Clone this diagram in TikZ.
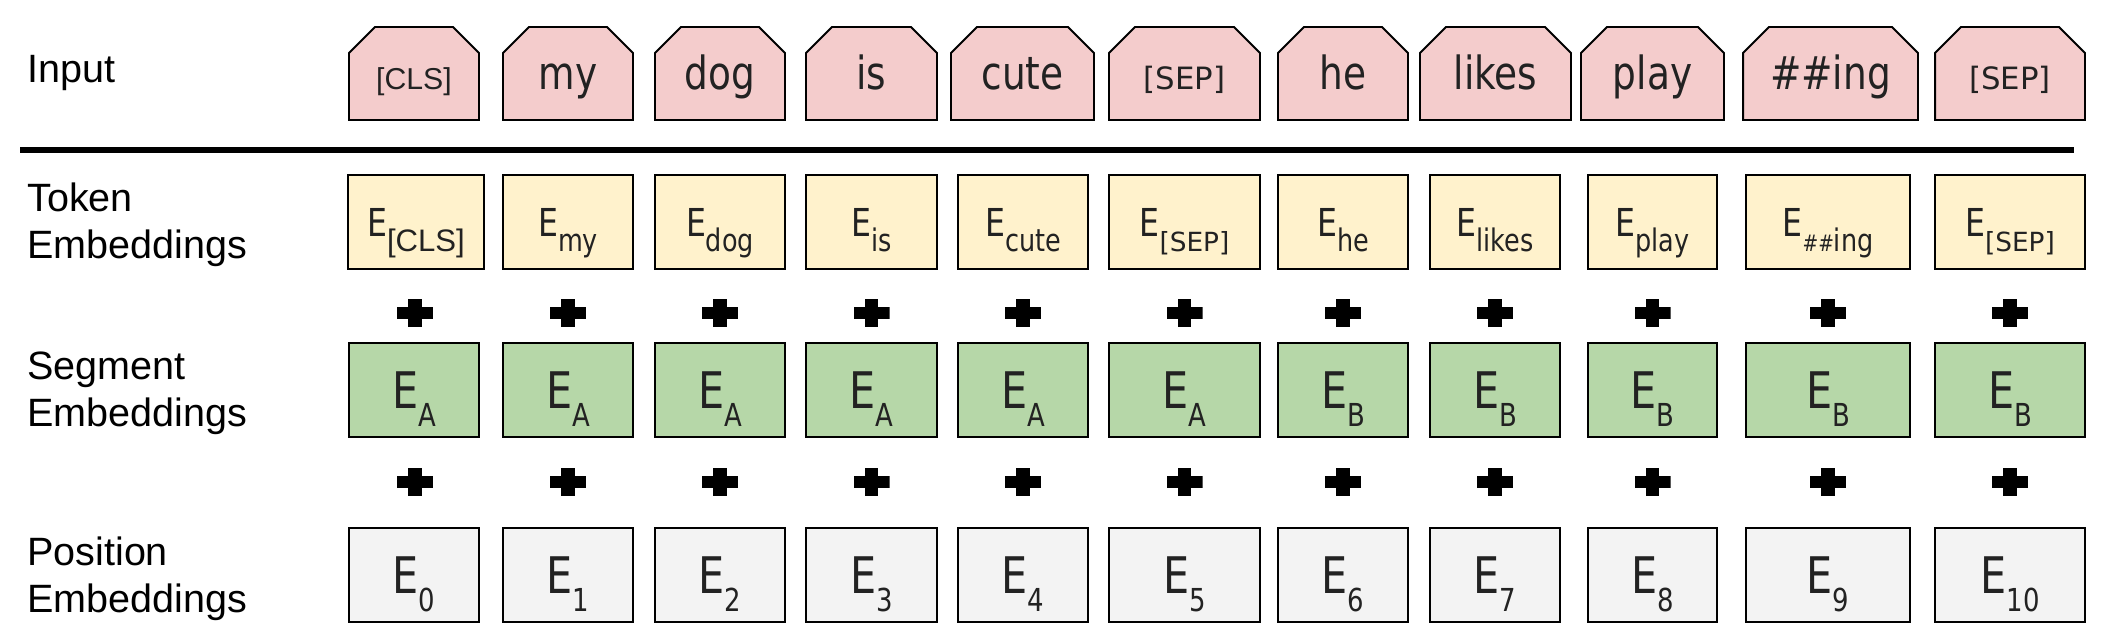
\documentclass[tikz,border=0pt]{standalone}
\usepackage{fontspec}
\setmainfont{Liberation Sans}
\newfontfamily\tahoma[FakeStretch=0.82]{DejaVu Sans}
\newfontfamily\dvs{DejaVu Sans}
\newfontfamily\arialfont{Liberation Sans}
\usetikzlibrary{shapes.misc}
\definecolor{inpink}{HTML}{F4CCCC}
\definecolor{tokyellow}{HTML}{FFF2CC}
\definecolor{seggreen}{HTML}{B6D7A8}
\definecolor{posgray}{HTML}{F3F3F3}
\definecolor{boxtext}{HTML}{222222}
\newcommand{\tsub}[1]{\raisebox{-0.30cm}{\fontsize{17.7}{20}\selectfont #1}}
\newcommand{\bsub}[1]{\raisebox{-0.37cm}{\fontsize{18}{20}\selectfont #1}}
\tikzset{
  lbl/.style={anchor=base west, align=left, inner sep=0pt, font=\fontsize{22.5}{26.2}\selectfont},
  inbox/.style={draw=black, line width=1.1pt, fill=inpink, text=boxtext, chamfered rectangle,
    chamfered rectangle corners={north west,north east}, chamfered rectangle xsep=0.26cm,
    chamfered rectangle ysep=0.26cm, minimum height=1.86cm, text height=0.66cm, text depth=0pt,
    font=\tahoma\fontsize{26}{30}\selectfont},
  tokbox/.style={draw=black, line width=1.1pt, fill=tokyellow, text=boxtext, minimum height=1.88cm,
    text height=0.588cm, text depth=0pt, font=\tahoma\fontsize{21.9}{26}\selectfont},
  segbox/.style={draw=black, line width=1.1pt, fill=seggreen, text=boxtext, minimum height=1.88cm,
    text height=0.72cm, text depth=0pt, font=\tahoma\fontsize{28.7}{32}\selectfont},
  posbox/.style={segbox, fill=posgray},
  plussign/.style={minimum width=0.72cm, minimum height=0.56cm, inner sep=0pt, path picture={
    \fill ([xshift=-0.133cm]path picture bounding box.north) rectangle ([xshift=0.133cm]path picture bounding box.south);
    \fill ([yshift=0.117cm]path picture bounding box.west) rectangle ([yshift=-0.117cm]path picture bounding box.east);}},
  sepline/.style={line width=3.4pt}
}
\begin{document}
\begin{tikzpicture}[x=0.02cm,y=-0.02cm]
\useasboundingbox (0,0) rectangle (2110,639);
% row labels
\node[lbl] (lin) at (27,82) {Input};
\node[lbl] (ltok) at (27,258) {Token\\Embeddings};
\node[lbl] (lseg) at (27,426) {Segment\\Embeddings};
\node[lbl] (lpos) at (27,612) {Position\\Embeddings};
% input tokens
\node[inbox, minimum width=2.6cm] (i0) at (414,73.5) {\arialfont\fontsize{17.2}{20}\selectfont [CLS]};
\node[inbox, minimum width=2.6cm] (i1) at (568,73.5) {my};
\node[inbox, minimum width=2.6cm] (i2) at (720,73.5) {dog};
\node[inbox, minimum width=2.62cm] (i3) at (871.5,73.5) {is};
\node[inbox, minimum width=2.86cm] (i4) at (1022.5,73.5) {cute};
\node[inbox, minimum width=3.02cm] (i5) at (1184.5,73.5) {\dvs\fontsize{17.5}{20}\selectfont [SEP]};
\node[inbox, minimum width=2.6cm] (i6) at (1343,73.5) {he};
\node[inbox, minimum width=3.02cm] (i7) at (1495.5,73.5) {likes};
\node[inbox, minimum width=2.86cm] (i8) at (1652.5,73.5) {play};
\node[inbox, minimum width=3.5cm] (i9) at (1830.5,73.5) {\#\#ing};
\node[inbox, minimum width=3.0cm] (i10) at (2010,73.5) {\dvs\fontsize{17.5}{20}\selectfont [SEP]};
\coordinate (rl) at (20,150);
\coordinate (rr) at (2074,150);
\draw[sepline] (rl) -- (rr);
% token embeddings
\node[tokbox, minimum width=2.72cm] (t0) at (416,222) {E\tsub{\arialfont [CLS]}};
\node[tokbox, minimum width=2.6cm] (t1) at (568,222) {E\tsub{my}};
\node[tokbox, minimum width=2.6cm] (t2) at (720,222) {E\tsub{dog}};
\node[tokbox, minimum width=2.62cm] (t3) at (871.5,222) {E\tsub{is}};
\node[tokbox, minimum width=2.6cm] (t4) at (1023,222) {E\tsub{cute}};
\node[tokbox, minimum width=3.02cm] (t5) at (1184.5,222) {E\tsub{\dvs\fontsize{15}{18}\selectfont [SEP]}};
\node[tokbox, minimum width=2.6cm] (t6) at (1343,222) {E\tsub{he}};
\node[tokbox, minimum width=2.6cm] (t7) at (1495,222) {E\tsub{likes}};
\node[tokbox, minimum width=2.58cm] (t8) at (1652.5,222) {E\tsub{play}};
\node[tokbox, minimum width=3.28cm] (t9) at (1828,222) {E\tsub{\fontsize{13}{15}\selectfont\#\#\fontsize{17.7}{20}\selectfont ing}};
\node[tokbox, minimum width=3.0cm] (t10) at (2010,222) {E\tsub{\dvs\fontsize{15}{18}\selectfont [SEP]}};
% plus signs
\node[plussign] (a0) at (415,313) {};
\node[plussign] (a1) at (568,313) {};
\node[plussign] (a2) at (720,313) {};
\node[plussign] (a3) at (871.5,313) {};
\node[plussign] (a4) at (1023,313) {};
\node[plussign] (a5) at (1184.5,313) {};
\node[plussign] (a6) at (1343,313) {};
\node[plussign] (a7) at (1495,313) {};
\node[plussign] (a8) at (1652.5,313) {};
\node[plussign] (a9) at (1828,313) {};
\node[plussign] (a10) at (2010,313) {};
% segment embeddings
\node[segbox, minimum width=2.6cm] (s0) at (414,390) {E\bsub{A}};
\node[segbox, minimum width=2.6cm] (s1) at (568,390) {E\bsub{A}};
\node[segbox, minimum width=2.6cm] (s2) at (720,390) {E\bsub{A}};
\node[segbox, minimum width=2.62cm] (s3) at (871.5,390) {E\bsub{A}};
\node[segbox, minimum width=2.6cm] (s4) at (1023,390) {E\bsub{A}};
\node[segbox, minimum width=3.02cm] (s5) at (1184.5,390) {E\bsub{A}};
\node[segbox, minimum width=2.6cm] (s6) at (1343,390) {E\bsub{B}};
\node[segbox, minimum width=2.6cm] (s7) at (1495,390) {E\bsub{B}};
\node[segbox, minimum width=2.58cm] (s8) at (1652.5,390) {E\bsub{B}};
\node[segbox, minimum width=3.28cm] (s9) at (1828,390) {E\bsub{B}};
\node[segbox, minimum width=3.0cm] (s10) at (2010,390) {E\bsub{B}};
% plus signs
\node[plussign] (b0) at (415,482) {};
\node[plussign] (b1) at (568,482) {};
\node[plussign] (b2) at (720,482) {};
\node[plussign] (b3) at (871.5,482) {};
\node[plussign] (b4) at (1023,482) {};
\node[plussign] (b5) at (1184.5,482) {};
\node[plussign] (b6) at (1343,482) {};
\node[plussign] (b7) at (1495,482) {};
\node[plussign] (b8) at (1652.5,482) {};
\node[plussign] (b9) at (1828,482) {};
\node[plussign] (b10) at (2010,482) {};
% position embeddings
\node[posbox, minimum width=2.6cm] (p0) at (414,575) {E\bsub{0}};
\node[posbox, minimum width=2.6cm] (p1) at (568,575) {E\bsub{1}};
\node[posbox, minimum width=2.6cm] (p2) at (720,575) {E\bsub{2}};
\node[posbox, minimum width=2.62cm] (p3) at (871.5,575) {E\bsub{3}};
\node[posbox, minimum width=2.6cm] (p4) at (1023,575) {E\bsub{4}};
\node[posbox, minimum width=3.02cm] (p5) at (1184.5,575) {E\bsub{5}};
\node[posbox, minimum width=2.6cm] (p6) at (1343,575) {E\bsub{6}};
\node[posbox, minimum width=2.6cm] (p7) at (1495,575) {E\bsub{7}};
\node[posbox, minimum width=2.58cm] (p8) at (1652.5,575) {E\bsub{8}};
\node[posbox, minimum width=3.28cm] (p9) at (1828,575) {E\bsub{9}};
\node[posbox, minimum width=3.0cm] (p10) at (2010,575) {E\bsub{10}};
\end{tikzpicture}
\end{document}
